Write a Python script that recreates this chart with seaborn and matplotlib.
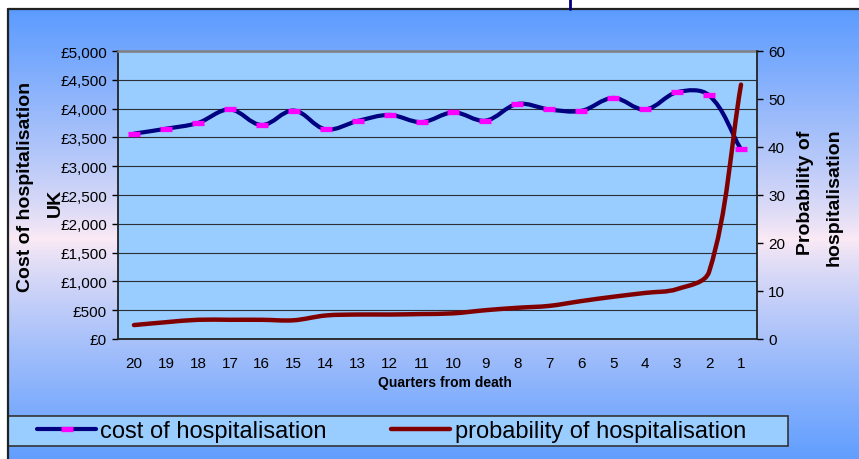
import matplotlib
matplotlib.use("Agg")
import matplotlib.pyplot as plt
from matplotlib.path import Path
from matplotlib.patches import PathPatch, Rectangle
from matplotlib.lines import Line2D
import numpy as np
import pandas as pd
import seaborn as sns

# data
quarters = [20, 19, 18, 17, 16, 15, 14, 13, 12, 11, 10, 9, 8, 7, 6, 5, 4, 3, 2, 1]
cost = [3565, 3650, 3750, 3985, 3715, 3965, 3640, 3785, 3890, 3765,
        3935, 3790, 4080, 3985, 3960, 4185, 3985, 4285, 4230, 3290]
probability = [2.9, 3.5, 4.0, 4.0, 4.0, 3.9, 4.9, 5.1, 5.1, 5.2,
               5.35, 6.0, 6.5, 6.9, 7.9, 8.8, 9.6, 10.4, 14.0, 53.0]
cost_ticks = list(range(0, 5001, 500))
prob_ticks = list(range(0, 61, 10))

W, H = 859, 460
NAVY = "#000080"
MAROON = "#800000"
PINK = "#FF00FF"
PLOT_BG = "#99CCFF"

sns.set_style("white")
plt.rcParams["font.family"] = ["Liberation Sans", "DejaVu Sans"]
plt.rcParams["text.color"] = "black"
plt.rcParams["xtick.color"] = "black"
plt.rcParams["ytick.color"] = "black"
plt.rcParams["xtick.labelcolor"] = "black"
plt.rcParams["ytick.labelcolor"] = "black"

df = pd.DataFrame({"pos": np.arange(len(quarters)), "quarter": quarters,
                   "cost": cost, "probability": probability})


def smooth_path(ax, xs, ys, **kw):
    # excel-like smoothed line: bezier through the points, built in screen space
    pts = ax.transData.transform(np.column_stack([xs, ys]))
    n = len(pts)
    tang = []
    for i in range(n):
        a = pts[max(i - 1, 0)]
        b = pts[min(i + 1, n - 1)]
        d = b - a
        tang.append(d / np.hypot(*d))
    verts = [pts[0]]
    codes = [Path.MOVETO]
    for i in range(n - 1):
        L = np.hypot(*(pts[i + 1] - pts[i]))
        verts += [pts[i] + tang[i] * L / 3, pts[i + 1] - tang[i + 1] * L / 3, pts[i + 1]]
        codes += [Path.CURVE4] * 3
    verts = ax.transData.inverted().transform(np.array(verts))
    patch = PathPatch(Path(verts, codes), fill=False, capstyle="round",
                      joinstyle="round", **kw)
    ax.add_patch(patch)


fig = plt.figure(figsize=(W / 100, H / 100), dpi=100)
fig.patch.set_facecolor("white")

# gradient chart area
bg = fig.add_axes([8 / W, 0, 1 - 8 / W, 450 / H], zorder=-10)
edge = np.array([0.36, 0.61, 1.0])
centre = np.array([0.99, 0.92, 0.96])
ypix = np.linspace(10, 460, 300)
t = np.clip(np.abs(ypix - 240) / 230, 0, 1) ** 0.8
grad = centre[None, :] * (1 - t[:, None]) + edge[None, :] * t[:, None]
bg.imshow(grad[:, None, :], aspect="auto", extent=[0, 1, 0, 1])
bg.set_axis_off()

fig.add_artist(Line2D([8 / W, 8 / W], [0, 450 / H], color="#222222", lw=1.6))
fig.add_artist(Line2D([8 / W, 1], [450 / H, 450 / H], color="#222222", lw=1.6))
fig.add_artist(Line2D([570 / W, 570 / W], [450 / H, 1], color=NAVY, lw=2))

ax = fig.add_axes([118 / W, 120 / H, 639 / W, 288 / H])
ax.set_facecolor(PLOT_BG)
ax2 = ax.twinx()

ax.set_xlim(-0.5, len(quarters) - 0.5)
ax.set_ylim(0, 5000)
ax2.set_ylim(0, 60)

ax.set_yticks(cost_ticks)
ax.set_yticklabels([f"£{v:,}" for v in cost_ticks])
ax2.set_yticks(prob_ticks)
ax.set_xticks(np.arange(-0.5, len(quarters), 1))
ax.set_xticklabels([])
ax.set_xticks(df["pos"], minor=True)
ax.set_xticklabels([str(q) for q in quarters], minor=True)

ax.grid(axis="y", color="#2a2f36", lw=0.8)
ax.set_axisbelow(True)

ax.tick_params(axis="x", which="major", direction="out", length=4, width=1, color="black")
ax.tick_params(axis="x", which="minor", length=0, pad=12, labelsize=11)
ax.tick_params(axis="y", direction="out", length=4, width=1, labelsize=11, pad=4)
ax2.tick_params(axis="y", direction="out", length=4, width=1, labelsize=11, pad=4)

for s in ["left", "bottom"]:
    ax.spines[s].set_color("#222222")
    ax.spines[s].set_linewidth(1.3)
ax.spines["top"].set_color("#808080")
ax.spines["top"].set_linewidth(1.8)
ax.spines["right"].set_visible(False)
ax2.spines["right"].set_color("#222222")
ax2.spines["right"].set_linewidth(1.3)
for s in ["left", "top", "bottom"]:
    ax2.spines[s].set_visible(False)

# lines
smooth_path(ax, df["pos"], df["cost"], edgecolor=NAVY, lw=3.0, zorder=3)
sns.lineplot(data=df, x="pos", y="cost", ax=ax, linestyle="none", marker="_",
             markersize=9, markeredgewidth=3.8, color=PINK,
             markeredgecolor=PINK, markerfacecolor=PINK, zorder=4)
smooth_path(ax2, df["pos"], df["probability"], edgecolor=MAROON, lw=3.2, zorder=3)
ax.set_xlabel("")
ax.set_ylabel("")
ax2.set_ylabel("")

# axis titles
fig.text(26 / W, 1 - 187 / H, "Cost of hospitalisation", rotation=90, fontsize=14,
         fontweight="bold", ha="center", va="center")
fig.text(55 / W, 1 - 203 / H, "UK", rotation=90, fontsize=14,
         fontweight="bold", ha="center", va="center")
fig.text(806 / W, 1 - 193 / H, "Probability of", rotation=90, fontsize=14,
         fontweight="bold", ha="center", va="center")
fig.text(834 / W, 1 - 197 / H, "hospitalisation", rotation=90, fontsize=14,
         fontweight="bold", ha="center", va="center")
fig.text(445 / W, 1 - 383 / H, "Quarters from death", fontsize=10,
         fontweight="bold", ha="center", va="center")

# legend
fig.patches.append(Rectangle((8 / W, 13 / H), 780 / W, 30 / H, transform=fig.transFigure,
                             facecolor=PLOT_BG, edgecolor="#333333", lw=1.2, zorder=1))
handles = [
    Line2D([], [], color=NAVY, lw=3.0, marker="_", markersize=9, markeredgewidth=3.8,
           markerfacecolor=PINK, markeredgecolor=PINK),
    Line2D([], [], color=MAROON, lw=3.2),
]
fig.legend(handles, ["cost of hospitalisation", "probability of hospitalisation"],
           loc="center left", bbox_to_anchor=(37 / W, 1 - 432 / H), ncol=2,
           frameon=False, fontsize=17, handlelength=2.5, handletextpad=0.17,
           columnspacing=2.75, borderpad=0, borderaxespad=0, numpoints=1)

fig.savefig("out.png", dpi=100)
